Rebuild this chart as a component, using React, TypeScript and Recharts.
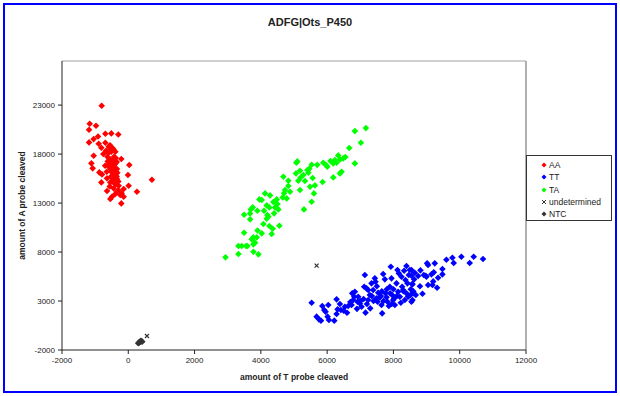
import { ScatterChart, Scatter, XAxis, YAxis, ReferenceLine } from "recharts";

// [T probe cleaved, A probe cleaved]
const aaPoints: [number, number][] = [
  [-803, 22930], [-1164, 21095], [-974, 20890], [-1184, 20480], [-692, 20075], [-512, 20110],
  [-301, 20005], [-913, 19800], [-1044, 19530], [-1184, 19190], [-893, 19055], [-692, 19155],
  [-592, 18750], [-542, 18645], [-472, 18580], [-813, 18645], [-672, 18340], [-753, 18000],
  [-512, 18240], [-391, 18240], [-1044, 17830], [-632, 17730], [-431, 17730], [-211, 17490],
  [-472, 17390], [-1114, 17050], [-532, 17050], [-391, 17050], [30, 16880], [-1074, 16540],
  [-592, 16710], [-441, 16710], [-341, 16470], [-873, 16130], [-793, 15925], [-492, 16130],
  [-391, 15860], [-10, 15860], [-642, 15520], [-472, 15585], [-341, 15450], [-813, 15110],
  [-542, 15110], [-411, 15005], [713, 15380], [-291, 14770], [10, 14770], [-441, 14500],
  [-140, 14430], [-642, 14225], [261, 14155], [-341, 14155], [-241, 13815], [-492, 13645],
  [-140, 13645], [-542, 13410], [-211, 12965],
  [-500, 17300], [-450, 17100], [-420, 16900], [-480, 16600], [-520, 16400], [-400, 16300],
  [-450, 16000], [-520, 15700], [-350, 15700], [-600, 16900], [-350, 17200], [-560, 17500],
  [-600, 18100], [-520, 18400], [-450, 18500], [-300, 15200], [-480, 15300], [-380, 14900],
  [-560, 14700], [-300, 14300], [-200, 14000], [-400, 13900], [-700, 16800], [-650, 16200],
  [-420, 15500], [-550, 18900], [-470, 16250], [-380, 17600], [-620, 17250], [-330, 16100],
];

const ttPoints: [number, number][] = [
  [5532, 2830], [5682, 1402], [5753, 1130], [5813, 994], [5853, 2490], [5913, 2082],
  [5953, 1912], [6014, 1402], [6034, 2592], [6054, 1062], [6215, 994], [6285, 3171],
  [6315, 2150], [6285, 1674], [6415, 2082], [6385, 2694], [6536, 2422], [6636, 2490],
  [6737, 2592], [6787, 3103], [6757, 3783], [6837, 3953], [6817, 3443], [6937, 3443],
  [6917, 2932], [7038, 2422], [6988, 2762], [7138, 5653], [7158, 1810], [7118, 4463],
  [7188, 4293], [7239, 4123], [7289, 3613], [7239, 3103], [7299, 2252], [7339, 4803],
  [7389, 4123], [7439, 5313], [7459, 4973], [7490, 3273], [7520, 2932], [7540, 3851],
  [7590, 3375], [7620, 3511], [7640, 2592], [7660, 1742], [7690, 5755], [7741, 5211],
  [7761, 3783], [7791, 3375], [7821, 2932], [7861, 2490], [7891, 4463], [7921, 6504],
  [7941, 5313], [7961, 3613], [7992, 3103], [8022, 3273], [8042, 2592], [8092, 4803],
  [8122, 6163], [8142, 3953], [8162, 5823], [8193, 3443], [8223, 2830], [8243, 5483],
  [8263, 4463], [8293, 4123], [8323, 6095], [8343, 3103], [8363, 5143], [8393, 6572],
  [8393, 3783], [8423, 4803], [8443, 3443], [8463, 5653], [8494, 6163], [8524, 4191],
  [8544, 2932], [8564, 4735], [8594, 3783], [8624, 5211], [8644, 5891],
  [8544, 6163], [8544, 5585], [8574, 4701], [8514, 3613], [8574, 3103], [8675, 3613],
  [8876, 3748], [8745, 5551], [8815, 6129], [8916, 5653], [8976, 5585], [8996, 5483],
  [9046, 6673], [9016, 6843], [9147, 5721], [9217, 5925], [9247, 6843], [9347, 5381],
  [9478, 6265], [9478, 5721], [9046, 4633], [9177, 4633], [9317, 4361], [9598, 7218],
  [9779, 7422], [9819, 6877], [10050, 7524], [10301, 6877], [10422, 7524], [10703, 7286],
  [7000, 3000], [7100, 3200], [7400, 3000], [7700, 3000], [7900, 3800], [8100, 3500],
  [7500, 4500], [7800, 4200], [7200, 2700], [6900, 2200], [6600, 1800], [7350, 3500],
  [8000, 4200], [8300, 4000], [7650, 4000], [6700, 2900], [6500, 2000], [7950, 2700],
  [8600, 4000], [9200, 5000], [8800, 4500],
];

const taPoints: [number, number][] = [
  [7169, 20653], [6837, 20347], [7018, 19156], [6667, 18612], [6837, 17048], [6335, 17864],
  [6235, 17388], [6385, 17456], [6486, 17558], [6185, 17048], [6285, 17116], [5964, 16878],
  [6004, 16708], [5883, 17116], [6436, 16197], [6385, 16027], [6185, 15619], [5863, 15143],
  [5100, 17252], [5070, 17116], [5532, 16912], [5462, 16503], [5402, 16367], [5432, 16095],
  [5181, 16299], [5060, 16027], [4679, 15687], [5281, 15857], [5331, 15245], [5130, 15279],
  [4829, 15279], [5562, 15551], [5632, 14803], [5482, 14667], [5181, 14327], [4829, 14735],
  [4729, 14327], [4880, 14157], [5602, 13987], [5532, 13137], [5301, 12354], [4126, 13987],
  [4277, 13783], [3956, 13375], [4026, 13307], [4478, 13375], [4659, 13579], [4779, 13477],
  [4377, 13103], [4177, 12762], [4257, 12558], [4428, 12558], [4528, 12354], [3755, 12558],
  [3695, 12354], [4096, 12218], [3895, 12218], [3494, 11810], [3675, 11946], [4197, 11776],
  [4227, 11606], [4177, 11402], [3675, 11334], [4076, 10858], [4257, 10654], [4558, 10688],
  [4357, 10382], [4327, 9838], [4026, 9906], [3875, 9497], [3775, 9497], [3725, 9293],
  [3825, 8953], [3775, 8783], [3554, 8613], [3424, 8613], [3323, 8613], [3594, 8613],
  [2932, 7457], [3323, 7797], [3775, 8035], [3926, 7763], [3494, 9974],
  [4500, 12900], [4400, 11950], [5200, 15600], [6100, 17300], [6550, 17700], [3900, 10200],
  [5700, 16900], [4700, 14000],
];

const undeterminedPoints: [number, number][] = [
  [5682, 6606], [563, -571],
];

const ntcPoints: [number, number][] = [
  [320, -1250], [360, -1150], [400, -1100], [340, -1200], [380, -1050], [300, -1300], [420, -1150],
];

const xTicks = [-2000, 0, 2000, 4000, 6000, 8000, 10000, 12000];
const yTicks = [-2000, 3000, 8000, 13000, 18000, 23000];

const series = [
  { name: "AA", color: "#ff0000", points: aaPoints, kind: "diamond" },
  { name: "TT", color: "#0000ff", points: ttPoints, kind: "diamond" },
  { name: "TA", color: "#00ff00", points: taPoints, kind: "diamond" },
  { name: "undetermined", color: "#333333", points: undeterminedPoints, kind: "cross" },
  { name: "NTC", color: "#333333", points: ntcPoints, kind: "diamond" },
];

const FONT = "'Liberation Sans', Arial, sans-serif";

function markShape(kind: string, color: string) {
  return (p: any) => {
    const { cx, cy } = p;
    if (kind === "cross") {
      return (
        <path
          d={`M${cx - 2},${cy - 2}L${cx + 2},${cy + 2}M${cx + 2},${cy - 2}L${cx - 2},${cy + 2}`}
          stroke={color}
          strokeWidth={1.2}
          fill="none"
        />
      );
    }
    return (
      <path
        d={`M${cx},${cy - 3.3}L${cx + 3.3},${cy}L${cx},${cy + 3.3}L${cx - 3.3},${cy}Z`}
        fill={color}
      />
    );
  };
}

function LegendMark({ kind, color }: { kind: string; color: string }) {
  return (
    <svg width={6} height={6} style={{ marginRight: 2 }}>
      {kind === "cross" ? (
        <path d="M1,1L5,5M5,1L1,5" stroke={color} strokeWidth={1} />
      ) : (
        <path d="M3,0.5L5.5,3L3,5.5L0.5,3Z" fill={color} />
      )}
    </svg>
  );
}

export default function App() {
  return (
    <div
      style={{
        position: "fixed",
        left: 0,
        top: 0,
        width: 620,
        height: 396,
        background: "#fff",
        fontFamily: FONT,
      }}
    >
      <div
        style={{
          position: "absolute",
          left: 3,
          top: 3,
          width: 610,
          height: 386,
          border: "2px solid #0000ff",
        }}
      />
      <div
        style={{
          position: "absolute",
          left: 0,
          top: 16,
          width: 620,
          textAlign: "center",
          fontSize: 11,
          fontWeight: "bold",
          color: "#222",
        }}
      >
        ADFG|Ots_P450
      </div>
      <div style={{ position: "absolute", left: 0, top: 0 }}>
        <ScatterChart width={620} height={396} margin={{ top: 61, right: 94, bottom: 0, left: 0 }}>
          <XAxis
            type="number"
            dataKey="x"
            domain={[-2000, 12000]}
            ticks={xTicks}
            interval={0}
            height={46}
            tickSize={4}
            tickMargin={3}
            stroke="#222"
            tick={{ fontSize: 8, fill: "#222", fontFamily: FONT }}
            label={{
              value: "amount of T probe cleaved",
              position: "insideBottom",
              offset: 16,
              style: { fontSize: 8.5, fontWeight: "bold", fill: "#222", fontFamily: FONT },
            }}
          />
          <YAxis
            type="number"
            dataKey="y"
            domain={[-2000, 27500]}
            ticks={yTicks}
            interval={0}
            width={62}
            tickSize={4}
            tickMargin={3}
            stroke="#222"
            tick={{ fontSize: 8, fill: "#222", fontFamily: FONT }}
            label={{
              value: "amount of A probe cleaved",
              angle: -90,
              position: "insideLeft",
              offset: 22,
              style: { fontSize: 8.5, fontWeight: "bold", fill: "#222", fontFamily: FONT, textAnchor: "middle" },
            }}
          />
          <ReferenceLine y={27500} stroke="#a0a0a0" strokeWidth={1} />
          <ReferenceLine x={12000} stroke="#b0b0b0" strokeWidth={2} />
          {series.map((s) => (
            <Scatter
              key={s.name}
              name={s.name}
              data={s.points.map(([x, y]) => ({ x, y }))}
              fill={s.color}
              shape={markShape(s.kind, s.color)}
              isAnimationActive={false}
            />
          ))}
        </ScatterChart>
      </div>
      <div
        style={{
          position: "absolute",
          left: 526,
          top: 155,
          width: 86,
          height: 66,
          border: "1px solid #333",
          background: "#fff",
          fontSize: 8.5,
          color: "#222",
          paddingTop: 3,
          boxSizing: "border-box",
        }}
      >
        {series.map((s) => (
          <div
            key={s.name}
            style={{ display: "flex", alignItems: "center", height: 12.3, paddingLeft: 14 }}
          >
            <LegendMark kind={s.kind} color={s.color} />
            <span>{s.name}</span>
          </div>
        ))}
      </div>
    </div>
  );
}
